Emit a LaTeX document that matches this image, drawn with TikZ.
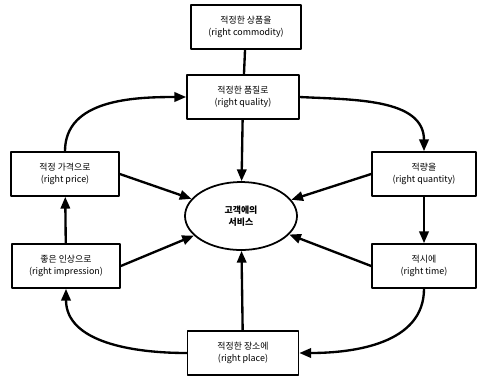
\documentclass[tikz,border=0pt]{standalone}
\usepackage{fontspec}
\setmainfont{Noto Sans CJK KR}
\usetikzlibrary{arrows.meta}
\usetikzlibrary{shapes.geometric}
\tikzset{
  mbox/.style={draw, line width=1.4pt, minimum height=1.32cm, align=center,
    inner sep=1pt, font=\fontsize{7.6}{9.6}\selectfont},
  serv/.style={draw, ellipse, line width=1.5pt, minimum width=3.36cm,
    minimum height=2.04cm, align=center, font=\fontsize{7.6}{9.8}\selectfont\bfseries},
  flow/.style={-{Triangle[length=10pt,width=8pt]}, line width=2pt},
}
\begin{document}
\begin{tikzpicture}[x=0.03cm, y=-0.03cm, line cap=round, line join=round]
  \useasboundingbox (0,0) rectangle (480,379);
  %--- centre
    \node[serv] (service) at (241,216) {고객에의\\서비스};
  %--- boxes
    \node[mbox, minimum width=3.3cm] (commodity) at (246,27) {적정한 상품을\\(right commodity)};
    \node[mbox, minimum width=3.36cm] (quality) at (243,97) {적정한 품질로\\(right quality)};
    \node[mbox, minimum width=3.12cm] (quantity) at (424,174) {적량을\\(right quantity)};
    \node[mbox, minimum width=3.12cm] (time) at (424,266) {적시에\\(right time)};
    \node[mbox, minimum width=3.33cm] (place) at (243,353) {적정한 장소에\\(right place)};
    \node[mbox, minimum width=3.24cm] (impression) at (66,266) {좋은 인상으로\\(right impression)};
    \node[mbox, minimum width=3.24cm] (price) at (65,174) {적정 가격으로\\(right price)};
  %--- outer ring
    \draw[line width=2pt] (commodity) -- (quality);
    \draw[flow] (quality.east) to[out=-3, in=90] (quantity.north);
    \draw[flow] (quantity) -- (time);
    \draw[flow] (time.south) to[out=-90, in=0] (place.east);
    \draw[flow] (place.west) to[out=180, in=-90] (impression.south);
    \draw[flow] (impression) -- (price);
    \draw[flow] (price.north) to[out=90, in=180] (quality.west);
  %--- spokes
    \draw[flow] (quality) -- (service);
    \draw[flow] (quantity.west) -- (service);
    \draw[flow] (time.west) -- (service);
    \draw[flow] (place) -- (service);
    \draw[flow] (impression.east) -- (service);
    \draw[flow] (price.east) -- (service);
\end{tikzpicture}
\end{document}
